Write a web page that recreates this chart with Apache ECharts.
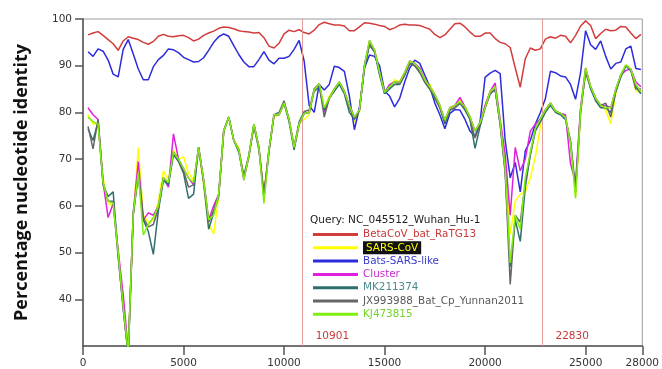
<!DOCTYPE html>
<html><head><meta charset="utf-8">
<script src="https://cdn.jsdelivr.net/npm/echarts@6/dist/echarts.min.js"></script>
<style>html,body{margin:0;padding:0;background:#fff}#c{width:662px;height:369px}</style>
</head><body><div id="c"></div>
<script>
const positions = [250,500,750,1000,1250,1500,1750,2000,2250,2500,
2750,3000,3250,3500,3750,4000,4250,4500,4750,5000,
5250,5500,5750,6000,6250,6500,6750,7000,7250,7500,
7750,8000,8250,8500,8750,9000,9250,9500,9750,10000,
10250,10500,10750,11000,11250,11500,11750,12000,12250,12500,
12750,13000,13250,13500,13750,14000,14250,14500,14750,15000,
15250,15500,15750,16000,16250,16500,16750,17000,17250,17500,
17750,18000,18250,18500,18750,19000,19250,19500,19750,20000,
20250,20500,20750,21000,21250,21500,21750,22000,22250,22500,
22750,23000,23250,23500,23750,24000,24250,24500,24750,25000,
25250,25500,25750,26000,26250,26500,26750,27000,27250,27500,
27750];

const ratg13 = [96.6,97.0,97.3,96.5,95.6,94.7,93.3,95.3,96.2,95.9,
95.6,95.0,94.6,95.2,96.3,96.7,96.3,96.2,96.4,96.5,
96.0,95.3,95.7,96.5,97.0,97.4,98.0,98.3,98.2,97.9,
97.5,97.3,97.2,97.0,97.1,96.0,94.2,93.8,94.8,96.8,
97.6,97.3,97.7,97.1,96.8,97.6,98.8,99.3,99.0,98.7,
98.7,98.5,97.5,97.5,98.3,99.2,99.1,98.9,98.6,98.4,
97.7,98.1,98.7,98.9,98.7,98.7,98.6,98.2,97.8,96.7,
96.0,96.6,97.8,99.0,99.1,98.3,97.2,96.3,96.3,97.0,
97.0,95.8,95.0,94.7,93.9,89.5,85.4,91.5,93.8,93.3,
93.6,95.7,96.2,95.9,96.5,96.3,94.9,96.5,98.5,99.6,
98.6,95.8,96.9,97.8,97.5,97.6,98.4,98.3,97.0,95.8,
96.7];

const sarsCov = [79.5,77.5,77.5,66.0,60.5,60.0,50.5,39.0,29.0,58.0,
72.5,58.0,56.5,57.0,61.0,67.5,65.5,72.0,70.0,70.5,
67.0,65.5,72.0,64.5,56.0,54.0,62.0,76.0,79.0,74.0,
72.5,66.0,70.5,77.5,72.5,63.0,72.0,79.0,79.5,82.0,
78.5,73.0,77.5,78.5,79.5,85.0,86.0,81.0,83.5,85.0,
86.5,84.5,81.5,78.0,80.0,90.0,94.8,93.4,88.6,84.3,
85.5,87.0,86.5,88.5,91.0,90.5,89.2,87.0,86.0,83.8,
81.5,78.3,81.0,81.5,82.8,81.2,79.0,76.0,77.8,81.5,
84.5,85.5,78.0,69.0,54.0,61.0,62.5,63.0,66.0,70.5,
77.0,80.5,82.0,80.3,79.8,79.0,73.5,62.0,79.5,89.5,
85.5,83.0,81.5,80.5,77.5,84.0,88.0,90.2,89.3,84.5,
84.5];

const batsSarsLike = [93.0,92.0,93.6,93.1,91.2,88.2,87.6,93.5,95.6,92.5,
89.3,87.0,87.0,89.8,91.3,92.2,93.6,93.4,92.8,91.8,
91.3,90.8,90.9,91.7,93.3,95.0,96.2,96.8,96.3,94.3,
92.4,90.8,89.8,89.8,91.3,93.0,91.2,90.4,91.6,91.6,
92.0,93.5,95.4,91.0,81.5,80.0,86.0,84.8,86.0,89.9,
89.6,88.8,83.5,76.3,81.0,89.5,92.3,92.0,90.0,84.6,
83.5,81.2,83.0,86.5,89.5,91.2,90.5,88.0,85.5,82.0,
79.5,76.5,79.8,80.6,80.5,78.5,76.0,74.8,78.0,87.5,
88.4,89.0,88.3,74.0,66.0,69.3,63.0,71.8,74.0,77.5,
80.0,83.0,88.8,88.5,87.8,87.6,86.0,82.8,88.5,97.5,
94.5,93.5,95.3,92.0,89.3,90.5,90.8,93.6,94.2,89.4,
89.2];

const cluster = [81.0,79.5,78.5,65.0,57.5,60.5,50.5,41.0,29.0,58.5,
69.5,57.0,58.5,58.0,60.0,66.0,64.0,75.4,70.0,68.0,
66.0,64.5,72.5,65.5,57.0,60.0,62.5,76.0,79.0,74.0,
72.0,65.5,70.8,77.5,72.5,62.5,72.0,79.5,79.5,82.0,
78.5,72.5,77.5,79.8,80.0,85.0,86.2,80.0,83.0,85.0,
86.5,84.5,81.5,79.0,80.5,90.0,95.3,93.4,88.6,84.3,
86.0,86.5,86.5,88.5,91.0,90.5,89.5,87.0,85.5,83.8,
81.5,78.3,81.0,81.5,83.2,81.2,79.0,76.0,77.8,81.5,
84.5,86.3,78.5,71.0,58.0,72.5,67.5,70.0,76.0,77.5,
78.6,80.5,82.0,80.3,79.8,79.5,69.0,65.0,81.0,89.5,
85.5,83.0,81.5,81.5,81.0,85.0,88.0,89.0,89.3,86.5,
85.5];

const mk211374 = [76.5,74.0,78.0,64.5,62.0,63.0,49.5,38.0,28.0,58.0,
66.5,57.0,54.5,49.6,59.0,65.5,64.5,71.0,69.5,67.0,
61.6,62.5,72.5,65.0,55.0,58.5,62.0,76.0,79.0,74.0,
71.5,66.0,70.5,77.5,72.5,62.0,71.5,79.5,79.5,82.0,
78.0,72.0,77.5,79.8,80.0,84.5,85.5,80.5,83.0,84.5,
86.0,84.0,80.0,78.5,80.5,89.5,94.5,93.0,88.0,84.0,
85.0,86.0,86.0,88.0,90.5,90.0,89.0,86.5,85.0,83.0,
81.0,77.5,80.5,81.0,82.0,80.5,78.5,72.3,77.0,81.0,
84.0,85.0,77.5,67.5,47.0,57.0,52.4,64.0,71.0,76.0,
78.0,80.0,81.5,80.0,79.5,78.5,74.0,63.5,80.0,89.0,
85.0,82.5,81.0,81.0,80.0,84.5,87.5,90.0,89.0,85.5,
84.0];

const jx993988 = [77.0,72.2,78.5,65.0,61.0,61.0,49.0,38.0,28.0,58.5,
67.0,57.5,55.5,56.0,59.5,66.0,65.0,71.5,70.0,67.5,
64.0,64.5,72.5,65.5,56.5,59.0,62.5,76.0,79.0,74.0,
72.0,66.5,70.8,77.0,72.0,62.0,72.0,79.5,80.0,82.5,
78.5,72.5,78.0,80.2,80.5,85.0,86.0,79.0,83.0,85.0,
86.5,84.5,81.0,78.6,80.5,90.0,94.5,93.0,88.6,84.3,
85.5,86.5,86.0,88.0,90.5,90.0,88.5,86.5,85.0,83.5,
81.0,78.0,80.5,81.0,82.0,81.0,78.5,74.5,77.5,81.0,
84.0,84.8,77.5,67.0,43.2,58.0,56.5,65.0,71.0,76.5,
78.6,80.5,82.0,80.3,79.8,79.0,73.5,63.0,80.5,88.5,
85.5,83.0,81.5,82.0,79.0,84.5,88.0,90.0,89.0,85.0,
85.0];

const kj473815 = [79.0,78.0,77.5,65.0,61.0,60.5,50.0,38.5,28.5,58.5,
67.0,53.8,56.0,57.5,60.0,66.0,65.0,71.5,70.0,68.0,
66.0,65.0,72.5,65.5,57.0,58.0,62.5,76.0,79.0,74.0,
72.0,65.5,70.8,77.5,72.5,60.5,72.0,79.5,79.5,82.0,
78.5,72.5,77.5,79.8,80.0,84.8,86.2,81.0,83.0,85.0,
86.5,84.5,81.5,79.0,80.5,90.0,95.5,93.4,88.6,84.3,
85.5,86.5,86.5,88.5,91.0,90.5,89.2,87.0,85.5,83.8,
81.5,78.3,81.0,81.5,82.3,81.2,79.0,76.0,77.8,81.0,
84.5,85.5,78.0,68.0,47.8,58.0,55.0,66.0,71.5,76.5,
78.6,80.5,82.0,80.3,79.8,79.0,73.5,61.6,80.5,89.5,
85.5,83.0,81.5,81.0,81.0,85.0,88.0,90.2,89.3,86.0,
84.5];

const seriesNames = ['BetaCoV_bat_RaTG13','SARS-CoV','Bats-SARS-like','Cluster','MK211374','JX993988_Bat_Cp_Yunnan2011','KJ473815'];
const seriesValues = [ratg13, sarsCov, batsSarsLike, cluster, mk211374, jx993988, kj473815];
const breakpoints = [10901, 22830];
const queryLabel = 'Query: NC_045512_Wuhan_Hu-1';
const yAxisTitle = 'Percentage nucleotide identity';
const xAxisEnd = 27820;
const xAxisEndLabel = '28000';

const lineColors = ['#d23c3c','#ffff00','#2c2cdc','#e020e0','#2e6e6e','#666666','#7fee10'];
const textColors = ['#c83a3a','#ffff00','#3b3bcc','#c42ccc','#4a8c8c','#5a5a5a','#72d42e'];

const chart = echarts.init(document.getElementById('c'), null, {renderer: 'canvas'});
const FONT = 'DejaVu Sans';

const series = seriesNames.map((name, i) => {
  const s = {
    name: name,
    type: 'line',
    data: positions.map((p, j) => [p, seriesValues[i][j]]),
    showSymbol: false,
    symbol: 'none',
    clip: true,
    lineStyle: {color: lineColors[i], width: 1.5},
    itemStyle: {color: lineColors[i]},
    z: 2 + i
  };
  if (i === 0) {
    s.markLine = {
      silent: true,
      symbol: ['none', 'none'],
      label: {show: false},
      lineStyle: {color: '#e59a9a', width: 1, type: 'solid'},
      data: breakpoints.map(b => ({xAxis: b}))
    };
    s.markPoint = {
      silent: true,
      symbol: 'circle',
      symbolSize: 1,
      itemStyle: {color: 'rgba(0,0,0,0)'},
      label: {
        show: true, position: [14, -1], formatter: '{c}',
        color: '#c83a3a', fontFamily: FONT, fontSize: 10.5
      },
      data: breakpoints.map(b => ({coord: [b, 33], value: b}))
    };
  }
  return s;
});

chart.setOption({
  animation: false,
  backgroundColor: '#ffffff',
  grid: {left: 83, right: 16, top: 19, bottom: 20, show: true, borderColor: '#9a9a9a', borderWidth: 1},
  xAxis: {
    type: 'value', min: 0, max: xAxisEnd, interval: 5000,
    axisLine: {show: true, lineStyle: {color: '#555', width: 1.5}},
    axisTick: {show: true, length: 9, lineStyle: {color: '#555', width: 1.5}},
    axisLabel: {
      color: '#333', fontFamily: FONT, fontSize: 10.5, margin: 12,
      showMaxLabel: true,
      formatter: v => (v === xAxisEnd ? xAxisEndLabel : String(v))
    },
    splitLine: {show: false}
  },
  yAxis: {
    type: 'value', min: 30, max: 100, interval: 10,
    name: yAxisTitle, nameLocation: 'middle', nameGap: 52,
    nameTextStyle: {fontFamily: 'Open Sans', fontWeight: 'bold', fontSize: 18, color: '#111'},
    axisLine: {show: true, lineStyle: {color: '#555', width: 1.5}},
    axisTick: {show: true, length: 8, lineStyle: {color: '#555', width: 1.5}},
    axisLabel: {color: '#333', fontFamily: FONT, fontSize: 10.5, margin: 11, showMinLabel: false},
    splitLine: {show: false}
  },
  legend: {
    orient: 'vertical', left: 313, top: 228, padding: 0, itemWidth: 45, itemHeight: 3, itemGap: 0.3,
    icon: 'rect', selectedMode: false,
    textStyle: {fontFamily: FONT, fontSize: 10.4, lineHeight: 13},
    data: seriesNames.map((n, i) => {
      const ts = {color: textColors[i]};
      if (i === 1) { ts.backgroundColor = '#111'; ts.padding = [0, 3]; }
      return {name: n, textStyle: ts};
    })
  },
  graphic: [{
    type: 'text', left: 310, top: 215,
    style: {text: queryLabel, fill: '#222', font: '10.5px "DejaVu Sans"'}
  }],
  series: series
});
</script></body></html>
